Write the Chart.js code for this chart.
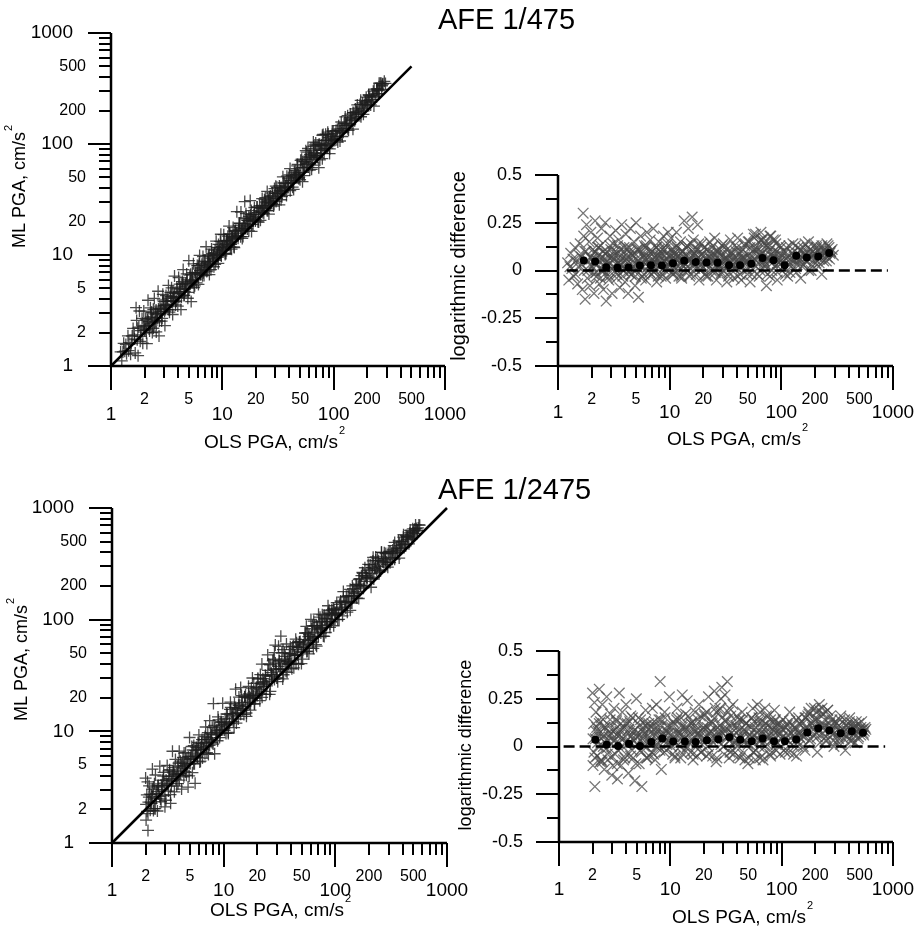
<!DOCTYPE html>
<html>

<head>
    <title>AFE PGA: ML vs OLS</title>
    <script src="https://cdn.jsdelivr.net/npm/chart.js"></script>
    <style>
        body {
            margin: 0;
            padding: 0;
            background-color: #fff;
        }

        #wrap {
            position: relative;
            width: 921px;
            height: 928px;
        }

        #wrap canvas {
            position: absolute;
            left: 0;
            top: 0;
        }
    </style>
</head>

<body>
    <div id="wrap">
        <canvas id="scatter475" width="921" height="928"></canvas>
        <canvas id="diff475" width="921" height="928"></canvas>
        <canvas id="scatter2475" width="921" height="928"></canvas>
        <canvas id="diff2475" width="921" height="928"></canvas>
    </div>

    <script>
        // ---- data ----
        const titles = ['AFE 1/475', 'AFE 1/2475'];
        const logTicks = [1, 2, 3, 4, 5, 6, 7, 8, 9, 10, 20, 30, 40, 50, 60, 70, 80, 90,
            100, 200, 300, 400, 500, 600, 700, 800, 900, 1000];
        const logMajor = [1, 10, 100, 1000];
        const logMinorLabels = [2, 5, 20, 50, 200, 500];
        const diffTicks = [-0.5, -0.375, -0.25, -0.125, 0, 0.125, 0.25, 0.375, 0.5];
        const diffLabels = ['0.5', '0.25', '0', '-0.25', '-0.5'];
        const diffLabelValues = [0.5, 0.25, 0, -0.25, -0.5];

        // [OLS PGA, log10(ML/OLS)] - scattered points
        const pts475 = [
            [1.22, 0.04], [1.25, -0.05], [1.3, 0.09], [1.33, 0.01], [1.38, -0.03], [1.42, 0.12], [1.45, 0.05], [1.5, -0.07], [1.52, 0.02], [1.58, 0.14],
            [1.62, 0.07], [1.65, -0.1], [1.68, 0.3], [1.7, 0.18], [1.72, 0.0], [1.75, -0.15], [1.78, 0.1], [1.8, 0.24], [1.83, -0.04], [1.86, 0.05],
            [1.9, 0.15], [1.93, -0.08], [1.97, 0.2], [2.0, 0.02], [2.05, 0.11], [2.1, -0.12], [2.15, 0.26], [2.18, 0.06],
            [2.22, -0.03], [2.26, 0.17], [2.3, 0.08], [2.35, -0.07], [2.4, 0.13], [2.45, 0.22], [2.5, 0.0], [2.55, -0.1], [2.6, 0.06], [2.65, 0.25],
            [2.7, -0.16], [2.75, 0.1], [2.8, 0.03], [2.85, -0.05], [2.92, 0.18], [3.0, 0.07], [3.05, -0.12], [3.12, 0.14],
            [3.2, 0.02], [3.28, 0.21], [3.35, -0.04], [3.42, 0.09], [3.5, 0.16], [3.58, -0.09], [3.65, 0.05], [3.72, 0.24], [3.8, 0.0], [3.9, 0.12],
            [3.98, -0.06], [4.05, 0.19], [4.15, 0.04], [4.25, -0.12], [4.35, 0.1], [4.45, 0.22], [4.55, -0.02], [4.65, 0.08], [4.78, 0.15], [4.9, -0.08],
            [5.0, 0.25], [5.12, 0.03], [5.25, -0.14], [5.38, 0.11], [5.5, 0.18], [5.65, -0.03], [5.8, 0.07], [5.95, 0.13],
            [6.1, -0.05], [6.25, 0.2], [6.4, 0.02], [6.55, 0.1], [6.7, 0.16], [6.85, -0.02], [7.0, 0.06], [7.15, 0.22], [7.3, 0.0], [7.5, 0.12],
            [7.65, -0.06], [7.8, 0.08], [8.0, 0.15], [8.2, 0.03], [8.4, -0.03], [8.6, 0.11], [8.8, 0.18], [9.0, 0.05], [9.2, -0.04], [9.4, 0.09],
            [9.6, 0.14], [9.8, 0.0], [10.0, 0.07], [9.7, 0.2],
            [10.3, 0.17], [10.6, -0.02], [10.9, 0.05], [11.2, 0.12], [11.5, 0.2], [11.8, 0.0], [12.1, 0.08], [12.5, 0.15], [12.8, -0.04], [13.1, 0.1],
            [13.5, 0.26], [13.9, 0.03], [14.3, 0.13], [14.7, 0.22], [15.1, -0.03], [15.5, 0.07], [15.9, 0.28], [16.3, 0.16], [16.8, 0.01], [17.3, 0.11],
            [17.8, 0.24], [18.3, -0.05], [18.8, 0.06], [19.4, 0.14], [19.9, 0.02], [11.0, 0.09], [13.0, 0.05], [17.0, 0.08],
            [20.5, 0.12], [21.2, -0.03], [22, 0.05], [22.8, 0.15], [23.6, 0.0], [24.4, 0.09], [25.3, 0.17], [26.2, -0.05], [27.1, 0.04], [28.1, 0.11],
            [29.1, -0.01], [30.2, 0.14], [31.3, 0.06], [32.5, -0.06], [33.7, 0.08], [35, 0.16], [36.3, 0.02], [37.7, -0.04], [39.1, 0.1], [40.6, 0.17],
            [42.1, 0.03], [43.7, -0.05], [45.3, 0.07], [47, 0.13], [48.7, 0.0], [23, 0.07], [27, 0.02], [34, 0.04], [41, 0.06], [46, 0.04],
            [50.5, 0.15], [52.5, -0.06], [54.5, 0.05], [56.6, 0.11], [58.8, 0.19], [61, -0.02], [63.3, 0.08], [65.7, 0.2], [68.2, 0.03], [70.8, 0.14],
            [73.5, -0.08], [76.3, 0.06], [79.2, 0.18], [82.2, 0.0], [85.3, 0.1], [88.5, 0.16], [91.9, -0.05], [95.4, 0.04], [99, 0.12], [60, 0.1],
            [70, 0.05], [80, 0.08], [66, 0.16], [75, 0.12],
            [103, 0.02], [108, 0.1], [114, -0.03], [120, 0.06], [127, 0.14], [134, 0.01], [141, 0.09], [149, -0.04], [157, 0.12], [166, 0.05],
            [175, 0.15], [185, 0.0], [195, 0.08], [206, 0.13], [218, 0.04], [230, -0.02], [243, 0.1], [256, 0.14], [270, 0.06], [285, 0.11], [292, 0.08],
            [2.1, 0.04], [2.6, 0.02], [3.1, 0.05], [3.6, 0.03], [4.1, 0.06], [4.6, 0.01], [5.2, 0.05], [5.7, 0.02], [6.3, 0.06], [6.9, 0.03],
            [7.6, 0.04], [8.3, 0.07], [9.1, 0.02], [10.1, 0.04], [10.8, 0.07], [11.6, 0.03], [12.3, 0.06], [13.3, 0.02], [14.0, 0.08], [15.0, 0.05],
            [16.0, 0.04], [18.0, 0.07], [19.0, 0.03], [21, 0.06], [24, 0.04], [26, 0.08], [29, 0.05], [31, 0.02], [33, 0.06], [37, 0.05],
            [39, 0.02], [44, 0.06], [49, 0.05], [53, 0.02], [57, 0.06], [62, 0.04], [68, 0.09], [72, 0.02], [78, 0.05], [84, 0.07],
            [90, 0.03], [97, 0.06], [105, 0.05], [118, 0.03], [130, 0.07], [145, 0.05], [160, 0.08], [180, 0.06], [200, 0.09], [225, 0.07],
            [250, 0.09], [275, 0.1]
        ];

        // dense core of the 1/475 cloud: OLS values and matching log differences
        const coreOls475 = [
            1.28, 1.36, 1.44, 1.55, 1.63, 1.74, 1.85, 1.95,
            2.0, 2.08, 2.15, 2.24, 2.32, 2.4, 2.5, 2.58, 2.67, 2.77, 2.88, 2.97, 3.08, 3.18, 3.3, 3.42, 3.54, 3.66, 3.8, 3.93,
            4.07, 4.22, 4.37, 4.52, 4.68, 4.85, 5.02, 5.2, 5.38, 5.57, 5.77, 5.98, 6.19, 6.41, 6.64, 6.87, 7.12, 7.37, 7.63, 7.9,
            8.18, 8.47, 8.77, 9.08, 9.4, 9.74,
            2.04, 2.12, 2.2, 2.28, 2.36, 2.45, 2.54, 2.63, 2.72, 2.82, 2.92, 3.03, 3.13, 3.24, 3.36, 3.48, 3.6, 3.73, 3.86, 4.0,
            4.14, 4.29, 4.45, 4.6, 4.76, 4.93, 5.11, 5.29, 5.48, 5.67, 5.88, 6.08, 6.3, 6.52, 6.75, 7.0, 7.25, 7.5, 7.76, 8.04,
            8.32, 8.62, 8.92, 9.24, 9.57, 9.9,
            10.1, 10.4, 10.8, 11.1, 11.5, 11.9, 12.3, 12.7, 13.2, 13.6, 14.1, 14.6, 15.1, 15.6, 16.2, 16.7, 17.3, 17.9, 18.5, 19.2,
            19.8, 20.5, 21.2, 22, 22.7, 23.5, 24.3, 25.2, 26.1, 27, 27.9, 28.9, 29.9, 30.9, 32, 33.1, 34.3, 35.5, 36.7, 38,
            39.3, 40.7, 42.1, 43.5, 45, 46.6, 48.2, 49.9, 51.6, 53.4, 55.3, 57.2, 59.2, 61.2, 63.4, 65.6, 67.8, 70.2, 72.6, 75.2,
            77.8, 80.5, 83.3, 86.2, 89.2, 92.3, 95.5, 98.8,
            10.25, 10.6, 10.95, 11.3, 11.7, 12.1, 12.5, 12.95, 13.4, 13.85, 14.35, 14.85, 15.35, 15.9, 16.45, 17, 17.6, 18.2, 18.85, 19.5,
            20.15, 20.85, 21.6, 22.35, 23.1, 23.9, 24.75, 25.6, 26.5, 27.45, 28.4, 29.4, 30.4, 31.45, 32.55, 33.7, 34.9, 36.1, 37.35, 38.65,
            40, 41.4, 42.8, 44.3, 45.8, 47.4, 49, 50.7, 52.5, 54.3, 56.2, 58.2, 60.2, 62.3, 64.5, 66.7, 69, 71.4, 73.9, 76.5,
            79.1, 81.9, 84.7, 87.7, 90.7, 93.9, 97.1,
            101, 105, 109, 113, 117, 122, 126, 131, 136, 141, 146, 152, 157, 163, 169, 176, 182, 189, 196, 203,
            211, 219, 227, 235, 244, 253, 262, 272,
            103, 107, 111, 115, 119.5, 124, 128.5, 133.5, 138.5, 143.5, 149, 154.5, 160, 166, 172.5, 179, 185.5, 192.5, 199.5, 207,
            215, 223, 231, 239.5, 248.5, 257.5, 267, 277
        ];
        const coreDiff475 = [
            0.02, 0.06, -0.02, 0.08, 0.03, 0.1, 0.0, 0.07,
            0.06, -0.02, 0.1, 0.03, 0.12, -0.04, 0.07, 0.0, 0.09, 0.05, -0.03, 0.11, 0.02, 0.08, -0.01, 0.13, 0.04, 0.06, -0.03, 0.1,
            0.01, 0.07, 0.12, -0.02, 0.05, 0.09, 0.0, 0.11, 0.03, -0.04, 0.08, 0.06, 0.13, 0.02, -0.01, 0.1, 0.04, 0.07, 0.12, -0.03,
            0.05, 0.09, 0.01, 0.11, 0.06, 0.03,
            0.02, 0.09, -0.01, 0.12, 0.05, 0.0, 0.1, 0.04, -0.03, 0.07, 0.13, 0.01, 0.06, 0.1, -0.02, 0.04, 0.11, 0.08, 0.0, 0.05,
            0.12, -0.01, 0.09, 0.03, 0.07, -0.03, 0.11, 0.05, 0.02, 0.09, -0.02, 0.12, 0.04, 0.07, 0.01, 0.1, -0.01, 0.06, 0.03, 0.11,
            0.08, -0.02, 0.05, 0.13, 0.02, 0.08,
            0.05, 0.11, -0.02, 0.08, 0.13, 0.02, 0.07, -0.03, 0.1, 0.04, 0.12, 0.0, 0.06, 0.14, 0.03, 0.09, -0.02, 0.11, 0.05, 0.08,
            0.01, 0.12, 0.04, -0.03, 0.09, 0.06, 0.13, 0.0, 0.07, 0.1, 0.02, -0.02, 0.08, 0.12, 0.04, 0.06, -0.01, 0.1, 0.03, 0.13,
            0.05, -0.03, 0.09, 0.01, 0.11, 0.07, 0.04, -0.02, 0.15, 0.06, 0.1, 0.17, 0.02, 0.12, -0.03, 0.08, 0.16, 0.05, 0.13, -0.02,
            0.1, 0.18, 0.04, 0.07, 0.14, -0.01, 0.09, 0.05,
            0.03, -0.01, 0.09, 0.06, 0.12, -0.03, 0.04, 0.1, 0.07, 0.01, 0.13, 0.05, -0.02, 0.08, 0.11, 0.03, 0.06, 0.14, 0.0, 0.09,
            0.04, -0.02, 0.11, 0.07, 0.02, 0.12, 0.05, -0.01, 0.1, 0.03, 0.08, 0.13, 0.0, 0.06, 0.11, -0.03, 0.04, 0.09, 0.07, 0.02,
            0.12, 0.05, -0.02, 0.1, 0.06, 0.14, 0.01, 0.08, 0.12, -0.02, 0.19, 0.06, 0.11, 0.15, 0.0, 0.09, 0.17, 0.03, 0.13, 0.07,
            -0.03, 0.12, 0.16, 0.02, 0.1, 0.06, 0.13,
            0.04, 0.1, -0.02, 0.07, 0.13, 0.02, 0.09, 0.05, -0.01, 0.12, 0.06, 0.1, 0.03, 0.14, 0.07, 0.0, 0.11, 0.08, 0.13, 0.04,
            0.1, 0.06, 0.12, 0.08, 0.11, 0.05, 0.13, 0.09,
            0.08, 0.01, 0.12, 0.05, -0.01, 0.09, 0.06, 0.13, 0.03, 0.07, 0.11, 0.02, 0.09, 0.05, 0.12, 0.08, 0.03, 0.1, 0.06, 0.12,
            0.02, 0.09, 0.13, 0.05, 0.1, 0.07, 0.12, 0.1
        ];

        const pts2475 = [
            [2.0, 0.28], [2.02, -0.1], [2.05, 0.12], [2.08, 0.23], [2.1, -0.21], [2.12, 0.04], [2.15, 0.18], [2.2, -0.05], [2.25, 0.08], [2.3, 0.3],
            [2.35, -0.08], [2.4, 0.15],
            [2.45, 0.22], [2.5, 0.0], [2.55, -0.12], [2.6, 0.1], [2.68, 0.26], [2.75, -0.07], [2.82, 0.05], [2.9, 0.17], [2.98, -0.15], [3.05, 0.08],
            [3.12, 0.2], [3.2, -0.04], [3.28, 0.13], [3.35, -0.17], [3.42, 0.02], [3.48, 0.28],
            [3.55, 0.09], [3.62, -0.1], [3.7, 0.18], [3.8, 0.04], [3.9, -0.06], [4.0, 0.22], [4.1, 0.12], [4.2, -0.14], [4.3, 0.02], [4.42, 0.16],
            [4.55, -0.02], [4.68, 0.08], [4.8, -0.18], [4.95, 0.25], [5.1, 0.05], [5.25, -0.09], [5.4, 0.14], [5.55, -0.21], [5.7, 0.1], [5.85, 0.0],
            [6.0, 0.19], [6.2, -0.06], [6.4, 0.12], [6.6, 0.03], [6.8, -0.03], [6.9, 0.2], [4.5, 0.06], [5.9, 0.07],
            [7.1, 0.09], [7.3, -0.07], [7.5, 0.22], [7.7, 0.02], [7.9, 0.14], [8.1, 0.34], [8.3, -0.12], [8.6, 0.06], [8.9, 0.18], [9.2, -0.02],
            [9.5, 0.1], [9.8, 0.26], [10.2, 0.0], [10.6, 0.13], [11.0, -0.06], [11.5, 0.2], [12, 0.05], [12.5, 0.15], [13, -0.04], [13.6, 0.1],
            [14.2, 0.24], [14.8, 0.02], [15.4, 0.12], [16, -0.07], [16.7, 0.18], [17.4, 0.06], [18.1, 0.22], [18.8, -0.03], [19.5, 0.09], [12.8, 0.27],
            [20.3, 0.16], [21.1, -0.05], [22, 0.26], [22.9, 0.04], [23.8, 0.12], [24.8, 0.29], [25.8, -0.08], [26.8, 0.08], [27.9, 0.2], [29, 0.31],
            [30.1, 0.0], [31.3, 0.14], [32.5, 0.34], [33.8, -0.06], [35.1, 0.1], [36.5, 0.22], [38, 0.03], [39.5, 0.16], [21.5, 0.1], [26, 0.18],
            [28.5, 0.25], [31, 0.27], [34, 0.2], [37, -0.04],
            [40.8, 0.08], [42.5, -0.06], [44.2, 0.18], [46, 0.02], [47.8, 0.12], [49.7, -0.09], [51.7, 0.06], [53.8, 0.15], [56, -0.03], [58.2, 0.1],
            [60.5, 0.22], [62.9, 0.0], [65.4, 0.13], [68, -0.07], [70.7, 0.2], [73.5, 0.05], [76.4, 0.16], [79.5, -0.05], [82.7, 0.09], [86, 0.19],
            [89.4, 0.01], [93, 0.12], [96.7, -0.04], [99, 0.07], [55, 0.2], [64, 0.18], [75, 0.11], [88, 0.14], [45, 0.14], [58, -0.07],
            [103, 0.14], [108, -0.03], [113, 0.06], [118, 0.18], [124, 0.01], [130, 0.1], [136, -0.05], [142, 0.15], [148, 0.04], [155, 0.12],
            [162, -0.02], [169, 0.08], [176, 0.17], [112, 0.11], [140, 0.07], [165, 0.15],
            [184, 0.2], [192, 0.06], [200, 0.14], [209, -0.03], [218, 0.22], [228, 0.1], [238, 0.17], [248, 0.03], [259, 0.19], [271, 0.08],
            [283, 0.14], [295, 0.0], [205, 0.18], [230, 0.2],
            [310, 0.12], [325, 0.04], [340, 0.16], [356, 0.07], [373, -0.02], [390, 0.11], [408, 0.15], [427, 0.03], [447, 0.09], [468, 0.13],
            [490, 0.05], [515, 0.1], [540, 0.07], [570, 0.09],
            [2.3, 0.05], [2.8, 0.03], [3.3, 0.06], [3.9, 0.02], [4.4, 0.05], [5.0, 0.01], [5.6, 0.04], [6.3, 0.06], [7.0, 0.02], [7.8, 0.05],
            [8.7, 0.07], [9.6, 0.03], [10.5, 0.06], [11.3, 0.02], [12.2, 0.07], [13.3, 0.04], [14.5, 0.06], [15.7, 0.03], [17, 0.08], [18.5, 0.05],
            [20, 0.02], [22.5, 0.07], [24.2, 0.04], [27, 0.06], [29.5, 0.09], [32, 0.05], [35.5, 0.07], [39, 0.03], [43, 0.05], [47, 0.08],
            [52, 0.04], [57, 0.06], [63, 0.03], [69, 0.07], [76, 0.04], [84, 0.06], [92, 0.02], [101, 0.05], [115, 0.03], [127, 0.06],
            [145, 0.05], [160, 0.09], [190, 0.1], [215, 0.08], [245, 0.11], [280, 0.09], [330, 0.08], [380, 0.06], [440, 0.1], [500, 0.08]
        ];

        const coreOls2475 = [
            2.02, 2.1, 2.18, 2.26, 2.35, 2.44, 2.53, 2.62, 2.72, 2.83, 2.93, 3.04, 3.16, 3.28, 3.4, 3.53, 3.66, 3.8, 3.94, 4.09,
            4.24, 4.4, 4.56, 4.73, 4.91, 5.09, 5.28, 5.48, 5.68, 5.89, 6.11, 6.34, 6.58, 6.82, 7.08, 7.34, 7.62, 7.9, 8.2, 8.5,
            8.82, 9.15, 9.49, 9.85,
            2.06, 2.14, 2.22, 2.3, 2.39, 2.48, 2.57, 2.67, 2.77, 2.88, 2.98, 3.1, 3.22, 3.34, 3.46, 3.59, 3.73, 3.87, 4.01, 4.16,
            4.32, 4.48, 4.64, 4.82, 5.0, 5.18, 5.38, 5.58, 5.78, 6.0, 6.22, 6.46, 6.7, 6.95, 7.21, 7.48, 7.76, 8.05, 8.35, 8.66,
            8.98, 9.32, 9.67,
            10.1, 10.5, 10.8, 11.2, 11.6, 12, 12.4, 12.8, 13.3, 13.7, 14.2, 14.7, 15.2, 15.7, 16.3, 16.8, 17.4, 18, 18.6, 19.3,
            19.9, 20.6, 21.3, 22.1, 22.8, 23.6, 24.4, 25.3, 26.2, 27.1, 28, 29, 30, 31, 32.1, 33.2, 34.4, 35.6, 36.8, 38.1,
            39.4, 40.8, 42.2, 43.7, 45.2, 46.8, 48.4, 50.1, 51.8, 53.6, 55.5, 57.4, 59.4, 61.5, 63.6, 65.8, 68.1, 70.5, 72.9, 75.5,
            78.1, 80.8, 83.6, 86.5, 89.5, 92.6, 95.9, 99.2,
            10.3, 10.65, 11, 11.4, 11.8, 12.2, 12.6, 13.05, 13.5, 13.95, 14.45, 14.95, 15.45, 16, 16.55, 17.1, 17.7, 18.3, 18.95, 19.6,
            20.25, 20.95, 21.7, 22.45, 23.2, 24, 24.85, 25.75, 26.65, 27.55, 28.5, 29.5, 30.5, 31.55, 32.65, 33.8, 35, 36.2, 37.45, 38.75,
            40.1, 41.5, 42.95, 44.45, 46, 47.6, 49.25, 50.95, 52.7, 54.55, 56.45, 58.4, 60.45, 62.55, 64.7, 66.95, 69.3, 71.7, 74.2, 76.8,
            79.45, 82.2, 85.05, 88, 91.05, 94.25, 97.5,
            101, 105, 109, 114, 118, 123, 128, 133, 138, 144, 150, 156, 162, 168, 175, 182, 189, 197, 205, 213,
            221, 230, 239, 249, 259, 269, 280, 291, 303, 315, 327, 340, 354, 368, 383, 398, 414, 430, 447, 465,
            484, 503, 523, 544, 560,
            103, 107, 111.5, 116, 120.5, 125.5, 130.5, 135.5, 141, 147, 153, 159, 165, 171.5, 178.5, 185.5, 193, 201, 209, 217,
            225.5, 234.5, 244, 254, 264, 274.5, 285.5, 297, 309, 321, 333.5, 347, 361, 375.5, 390.5, 406, 422, 438.5, 456, 474.5,
            493.5, 513, 533, 552
        ];
        const coreDiff2475 = [
            0.04, -0.06, 0.1, 0.0, 0.13, -0.08, 0.06, 0.02, -0.04, 0.11, 0.07, -0.1, 0.03, 0.14, -0.02, 0.08, 0.05, -0.07, 0.12, 0.01,
            0.09, -0.05, 0.15, 0.03, -0.09, 0.07, 0.11, -0.03, 0.05, 0.13, -0.06, 0.09, 0.02, 0.12, -0.04, 0.06, 0.1, 0.0, 0.14, 0.04,
            -0.03, 0.08, 0.11, 0.02,
            -0.03, 0.08, 0.02, 0.12, -0.07, 0.05, 0.1, -0.01, 0.07, 0.14, -0.05, 0.03, 0.09, -0.09, 0.06, 0.12, 0.0, 0.1, -0.04, 0.07,
            0.13, 0.02, -0.06, 0.09, 0.05, 0.15, -0.02, 0.08, 0.01, 0.11, 0.04, -0.05, 0.1, 0.06, 0.13, 0.0, 0.08, -0.02, 0.11, 0.05,
            0.15, 0.01, 0.07,
            0.06, -0.04, 0.12, 0.02, 0.15, 0.08, -0.06, 0.1, 0.04, 0.17, 0.0, 0.09, -0.03, 0.13, 0.05, 0.11, -0.05, 0.07, 0.16, 0.01,
            0.1, 0.04, 0.18, -0.04, 0.08, 0.13, 0.02, 0.2, -0.06, 0.07, 0.11, 0.15, 0.0, 0.09, 0.05, 0.18, -0.03, 0.12, 0.06, 0.02,
            0.1, -0.05, 0.14, 0.04, 0.08, -0.07, 0.12, 0.01, 0.06, 0.15, -0.03, 0.09, 0.04, 0.13, -0.06, 0.07, 0.11, 0.0, 0.16, 0.05,
            -0.04, 0.1, 0.03, 0.13, -0.02, 0.08, 0.12, 0.04,
            0.1, 0.03, -0.05, 0.14, 0.07, 0.0, 0.11, 0.05, -0.02, 0.09, 0.16, 0.03, 0.12, -0.04, 0.08, 0.01, 0.14, 0.06, -0.03, 0.1,
            0.17, 0.05, 0.0, 0.12, 0.08, -0.05, 0.15, 0.04, 0.1, 0.19, 0.01, 0.07, -0.04, 0.13, 0.09, 0.03, 0.16, -0.02, 0.06, 0.11,
            0.0, 0.14, 0.05, -0.04, 0.09, 0.12, 0.02, -0.06, 0.1, 0.05, 0.13, -0.02, 0.07, 0.15, 0.03, -0.05, 0.09, 0.12, 0.01, 0.06,
            0.14, -0.03, 0.08, 0.11, 0.02, 0.07, 0.1,
            0.05, -0.02, 0.1, 0.03, 0.13, 0.07, -0.04, 0.09, 0.02, 0.12, 0.06, 0.0, 0.15, 0.08, 0.18, 0.04, 0.12, 0.2, 0.07, 0.14,
            0.02, 0.17, 0.1, 0.05, 0.19, 0.12, 0.08, 0.03, 0.13, 0.06, 0.11, 0.01, 0.09, 0.14, 0.05, 0.1, 0.03, 0.12, 0.07, 0.11,
            0.04, 0.09, 0.13, 0.06, 0.1,
            0.09, 0.02, 0.12, -0.03, 0.07, 0.11, 0.04, 0.14, 0.0, 0.08, 0.13, 0.05, 0.1, 0.16, 0.03, 0.12, 0.09, 0.15, 0.05, 0.19,
            0.11, 0.07, 0.14, 0.03, 0.1, 0.16, 0.06, 0.12, 0.02, 0.09, 0.14, 0.07, 0.04, 0.11, 0.08, 0.13, 0.05, 0.1, 0.02, 0.08,
            0.12, 0.06, 0.09, 0.08
        ];

        // bin means (black dots)
        const binX475 = [1.7, 2.15, 2.7, 3.41, 4.28, 5.41, 6.79, 8.52, 10.7, 13.5, 17.1, 21.4, 26.9, 34.0, 42.7, 53.9, 67.7, 85.0, 107, 136, 169, 214, 268];
        const binY475 = [0.052, 0.047, 0.017, 0.014, 0.016, 0.026, 0.028, 0.026, 0.038, 0.051, 0.044, 0.042, 0.040, 0.028, 0.028, 0.035, 0.065, 0.054, 0.028, 0.077, 0.068, 0.073, 0.091];
        const binX2475 = [2.12, 2.68, 3.39, 4.25, 5.34, 6.75, 8.47, 10.6, 13.5, 16.9, 21.3, 27.0, 33.9, 42.5, 53.8, 67.5, 85.3, 107, 135, 170, 213, 268, 339, 426, 538];
        const binY2475 = [0.035, 0.009, 0.002, 0.014, 0.002, 0.024, 0.042, 0.026, 0.026, 0.024, 0.033, 0.038, 0.049, 0.035, 0.028, 0.042, 0.028, 0.028, 0.037, 0.073, 0.096, 0.084, 0.070, 0.080, 0.072];

        // 1:1 line and zero line end points
        const diagX475 = [1, 500];
        const diagX2475 = [1, 1000];
        const zeroX475 = [1.2, 900];
        const zeroX2475 = [1.1, 850];

        // ---- drawing ----
        const W = 921, H = 928;
        const FONT = '"Liberation Sans", Arial, Helvetica, sans-serif';

        function textWithSup(ctx, main, sup, x, y, size, rotate) {
            ctx.save();
            ctx.translate(x, y);
            if (rotate) ctx.rotate(-Math.PI / 2);
            ctx.font = size + 'px ' + FONT;
            const w1 = ctx.measureText(main).width;
            ctx.font = Math.round(size * 0.6) + 'px ' + FONT;
            const w2 = ctx.measureText(sup).width;
            const start = -(w1 + w2) / 2;
            ctx.textAlign = 'left';
            ctx.textBaseline = 'middle';
            ctx.font = size + 'px ' + FONT;
            ctx.fillText(main, start, 0);
            ctx.font = Math.round(size * 0.6) + 'px ' + FONT;
            ctx.fillText(sup, start + w1 + 1, -size * 0.62);
            ctx.restore();
        }

        // axes in the style of the paper figure
        function paperAxes(cfg) {
            return {
                id: 'paperAxes',
                afterDraw(chart) {
                    const ctx = chart.ctx;
                    const xs = chart.scales.x, ys = chart.scales.y;
                    const a = chart.chartArea;
                    ctx.save();
                    ctx.strokeStyle = '#000';
                    ctx.fillStyle = '#000';

                    ctx.lineWidth = 2.5;
                    ctx.beginPath();
                    ctx.moveTo(a.left, a.top);
                    ctx.lineTo(a.left, a.bottom);
                    ctx.lineTo(a.right, a.bottom);
                    ctx.stroke();

                    // x ticks (log)
                    ctx.lineWidth = 2;
                    ctx.beginPath();
                    logTicks.forEach(v => {
                        const x = Math.round(xs.getPixelForValue(v));
                        const len = logMajor.includes(v) ? 24 : 12;
                        ctx.moveTo(x, a.bottom);
                        ctx.lineTo(x, a.bottom + len);
                    });
                    ctx.stroke();
                    ctx.textAlign = 'center';
                    ctx.textBaseline = 'middle';
                    ctx.font = '16px ' + FONT;
                    logMinorLabels.forEach(v => ctx.fillText(String(v), xs.getPixelForValue(v), a.bottom + cfg.xMinorOff));
                    ctx.font = '19px ' + FONT;
                    logMajor.forEach(v => ctx.fillText(String(v), xs.getPixelForValue(v), a.bottom + cfg.xMajorOff));

                    // y ticks
                    ctx.beginPath();
                    if (cfg.yLog) {
                        logTicks.forEach(v => {
                            const y = Math.round(ys.getPixelForValue(v));
                            const len = logMajor.includes(v) ? 23 : 12;
                            ctx.moveTo(a.left, y);
                            ctx.lineTo(a.left - len, y);
                        });
                    } else {
                        diffTicks.forEach(v => {
                            const y = Math.round(ys.getPixelForValue(v));
                            const len = diffLabelValues.includes(v) ? 23 : 12;
                            ctx.moveTo(a.left, y);
                            ctx.lineTo(a.left - len, y);
                        });
                    }
                    ctx.stroke();
                    ctx.textAlign = 'right';
                    if (cfg.yLog) {
                        ctx.font = '19px ' + FONT;
                        logMajor.forEach(v => ctx.fillText(String(v), a.left - 38, ys.getPixelForValue(v)));
                        ctx.font = '16px ' + FONT;
                        logMinorLabels.forEach(v => ctx.fillText(String(v), a.left - 25, ys.getPixelForValue(v)));
                    } else {
                        ctx.font = '18px ' + FONT;
                        diffLabelValues.forEach((v, i) => ctx.fillText(diffLabels[i], a.left - 36, ys.getPixelForValue(v)));
                    }

                    // axis titles
                    textWithSup(ctx, 'OLS PGA, cm/s', '2', cfg.xTitle[0], cfg.xTitle[1], 19, false);
                    if (cfg.yLog) {
                        textWithSup(ctx, 'ML PGA, cm/s', '2', cfg.yTitle[0], cfg.yTitle[1], 18, true);
                    } else {
                        ctx.save();
                        ctx.translate(cfg.yTitle[0], cfg.yTitle[1]);
                        ctx.rotate(-Math.PI / 2);
                        ctx.textAlign = 'center';
                        ctx.font = cfg.yTitleSize + 'px ' + FONT;
                        ctx.fillText('logarithmic difference', 0, 0);
                        ctx.restore();
                    }

                    if (cfg.title) {
                        ctx.textAlign = 'left';
                        ctx.textBaseline = 'alphabetic';
                        ctx.font = '29px ' + FONT;
                        ctx.fillText(cfg.title, cfg.titlePos[0], cfg.titlePos[1]);
                    }
                    ctx.restore();
                }
            };
        }

        function makePanel(id, box, yLog, datasets, deco) {
            deco.yLog = yLog;
            const yScale = yLog
                ? { type: 'logarithmic', min: 1, max: 1000, display: false }
                : { type: 'linear', min: -0.5, max: 0.5, display: false };
            return new Chart(document.getElementById(id), {
                type: 'scatter',
                data: { datasets: datasets },
                options: {
                    responsive: false,
                    animation: false,
                    events: [],
                    layout: {
                        padding: { left: box[0], top: box[1], right: W - box[2], bottom: H - box[3] }
                    },
                    plugins: { legend: { display: false }, tooltip: { enabled: false } },
                    scales: {
                        x: { type: 'logarithmic', min: 1, max: 1000, display: false },
                        y: yScale
                    }
                },
                plugins: [paperAxes(deco)]
            });
        }

        function lineSet(xs, ys, dash) {
            return {
                data: xs.map((x, i) => ({ x: x, y: ys[i] })),
                showLine: true,
                borderColor: '#000',
                borderWidth: 2.5,
                borderDash: dash || [],
                pointRadius: 0,
                clip: false
            };
        }

        function cloudSet(pts, coreX, coreD, asRatio) {
            const all = pts.concat(coreX.map((x, i) => [x, coreD[i]]));
            return {
                data: all.map(p => asRatio ? { x: p[0], y: p[0] * Math.pow(10, p[1]) } : { x: p[0], y: p[1] }),
                pointStyle: asRatio ? 'cross' : 'crossRot',
                pointRadius: asRatio ? 6 : 7.5,
                borderColor: asRatio ? 'rgba(30,30,30,0.8)' : 'rgba(72,72,72,0.75)',
                borderWidth: 1.3,
                clip: false
            };
        }

        function dotSet(xs, ys) {
            return {
                data: xs.map((x, i) => ({ x: x, y: ys[i] })),
                pointStyle: 'circle',
                pointRadius: 4,
                backgroundColor: '#000',
                borderWidth: 0,
                clip: false
            };
        }

        makePanel('scatter475', [111, 33, 445, 366], true, [
            lineSet(diagX475, diagX475),
            cloudSet(pts475, coreOls475, coreDiff475, true)
        ], { xMinorOff: 34, xMajorOff: 49, xTitle: [274, 443], yTitle: [20, 187], title: titles[0], titlePos: [438, 29] });

        makePanel('diff475', [558, 175, 893, 366], false, [
            dotSet(binX475, binY475),
            lineSet(zeroX475, [0, 0], [11, 5]),
            cloudSet(pts475, coreOls475, coreDiff475, false)
        ], { xMinorOff: 34, xMajorOff: 47, xTitle: [737, 440], yTitle: [459, 266], yTitleSize: 20 });

        makePanel('scatter2475', [112, 508, 447, 843], true, [
            lineSet(diagX2475, diagX2475),
            cloudSet(pts2475, coreOls2475, coreDiff2475, true)
        ], { xMinorOff: 34, xMajorOff: 48, xTitle: [280, 911], yTitle: [22, 660], title: titles[1], titlePos: [438, 499] });

        makePanel('diff2475', [559, 651, 893, 842], false, [
            dotSet(binX2475, binY2475),
            lineSet(zeroX2475, [0, 0], [11, 5]),
            cloudSet(pts2475, coreOls2475, coreDiff2475, false)
        ], { xMinorOff: 34, xMajorOff: 48, xTitle: [742, 918], yTitle: [466, 745], yTitleSize: 18 });
    </script>
</body>

</html>
